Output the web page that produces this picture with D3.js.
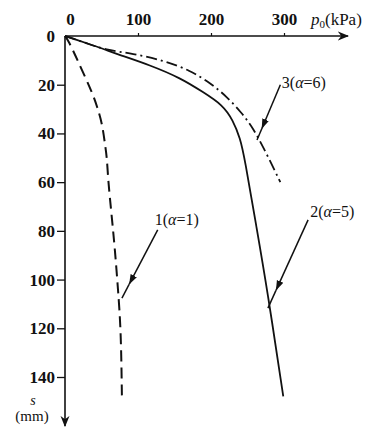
<!DOCTYPE html>
<html>
<head>
<meta charset="utf-8">
<script src="https://cdn.jsdelivr.net/npm/d3@7"></script>
<style>
  body { margin: 0; background: #fff; }
  text { font-family: "Liberation Serif", "DejaVu Serif", serif; fill: #111; }
</style>
</head>
<body>
<svg id="chart" width="374" height="432"></svg>
<script>
// load p0 (kPa) vs settlement s (mm)
var xTicks = [0, 100, 200, 300];
var yTicks = [0, 20, 40, 60, 80, 100, 120, 140];

// curve 1 (a = 1), dashed
var curve1 = [[0, 0], [4, 1.6], [14, 7.8], [25, 15.2], [37, 23], [44, 29], [51, 36],
              [55, 45], [57.5, 50], [59, 59], [64, 74], [68.5, 88], [72.6, 104], [76.7, 121], [78, 149]];
// curve 2 (a = 5), solid
var curve2 = [[0, 0], [15, 1.5], [30, 3], [50, 5], [75, 7.8], [116, 11.9], [158, 17.2],
              [189, 23], [216, 28.3], [230, 34.5], [240, 42], [246, 50], [262, 78], [277, 104], [299, 148]];
// curve 3 (a = 6), dash-dot
var curve3 = [[0, 0], [30, 3], [55, 5.7], [93, 7.2], [134, 10], [171, 14], [200, 19.5],
              [222, 25], [242, 31.5], [258, 38], [274, 47], [295, 60]];

// labels with leader lines: text anchor point, leader start, leader end (data units)
var notes = [
    { num: "1", a: "1", text: [123, 77.6], from: [127, 79.6], to: [78, 107.6] },
    { num: "2", a: "5", text: [336, 74.3], from: [333, 75.5], to: [278, 111.7] },
    { num: "3", a: "6", text: [297, 21.3], from: [295, 20], to: [263, 42.7] }
];

var svg = d3.select("#chart");
var x = d3.scaleLinear().domain([0, 300]).range([65, 284]);
var y = d3.scaleLinear().domain([0, 140]).range([36, 377]);

var defs = svg.append("defs");
defs.append("marker")
    .attr("id", "axisArrow")
    .attr("viewBox", "0 0 10 10")
    .attr("refX", 9).attr("refY", 5)
    .attr("markerWidth", 7).attr("markerHeight", 7)
    .attr("orient", "auto")
    .append("path").attr("d", "M0,1 L10,5 L0,9 L3,5 Z").attr("fill", "#111");

// axes lines
svg.append("line")
    .attr("x1", x(0)).attr("y1", y(0)).attr("x2", 348).attr("y2", y(0))
    .attr("stroke", "#111").attr("stroke-width", 1.6)
    .attr("marker-end", "url(#axisArrow)");
svg.append("line")
    .attr("x1", x(0)).attr("y1", y(0)).attr("x2", x(0)).attr("y2", 426)
    .attr("stroke", "#111").attr("stroke-width", 1.6)
    .attr("marker-end", "url(#axisArrow)");

// y axis ticks
var yAxis = d3.axisLeft(y).tickValues(yTicks).tickSize(8).tickPadding(2);
var gy = svg.append("g").attr("transform", "translate(" + x(0) + ",0)").call(yAxis);
gy.select(".domain").remove();
gy.selectAll(".tick line").attr("stroke", "#111").attr("stroke-width", 1.3)
    .filter(function (d) { return d === 0; }).remove();
gy.selectAll(".tick text")
    .attr("font-size", 17).attr("font-weight", "bold")
    .attr("font-family", "Liberation Serif").attr("fill", "#111");

// x axis ticks
var xAxis = d3.axisTop(x).tickValues(xTicks).tickSize(3).tickPadding(8);
var gx = svg.append("g").attr("transform", "translate(0," + y(0) + ")").call(xAxis);
gx.select(".domain").remove();
gx.selectAll(".tick line").attr("stroke", "#111").attr("stroke-width", 1.2)
    .filter(function (d) { return d === 0; }).remove();
gx.selectAll(".tick text")
    .attr("font-size", 17).attr("font-weight", "bold")
    .attr("font-family", "Liberation Serif").attr("fill", "#111")
    .attr("dx", function (d) { return d === 0 ? 5 : 0; });

// axis titles
var px = svg.append("text").attr("x", 311).attr("y", 25).attr("font-size", 17);
px.append("tspan").attr("font-style", "italic").text("p");
px.append("tspan").attr("font-size", 11).attr("dy", 3).text("0");
px.append("tspan").attr("dy", -3).text("(kPa)");

svg.append("text").attr("x", 33).attr("y", 405).attr("font-size", 14)
    .attr("font-style", "italic").attr("text-anchor", "middle").text("s");
svg.append("text").attr("x", 32).attr("y", 421).attr("font-size", 15)
    .attr("text-anchor", "middle").text("(mm)");

// curves
var line = d3.line()
    .x(function (d) { return x(d[0]); })
    .y(function (d) { return y(d[1]); })
    .curve(d3.curveBasis);

svg.append("path").datum(curve1).attr("d", line)
    .attr("fill", "none").attr("stroke", "#111").attr("stroke-width", 2)
    .attr("stroke-dasharray", "11,6");
svg.append("path").datum(curve2).attr("d", line)
    .attr("fill", "none").attr("stroke", "#111").attr("stroke-width", 1.8);
svg.append("path").datum(curve3).attr("d", line)
    .attr("fill", "none").attr("stroke", "#111").attr("stroke-width", 1.8)
    .attr("stroke-dasharray", "11,4,2,4");

// leader lines with arrowheads
defs.append("marker")
    .attr("id", "leadArrow")
    .attr("viewBox", "0 0 10 10")
    .attr("refX", 10).attr("refY", 5)
    .attr("markerWidth", 10).attr("markerHeight", 10)
    .attr("markerUnits", "userSpaceOnUse")
    .attr("orient", "auto")
    .append("path").attr("d", "M0,1.5 L10,5 L0,8.5 Z").attr("fill", "#111");

notes.forEach(function (n) {
    var x1 = x(n.from[0]), y1 = y(n.from[1]);
    var x2 = x(n.to[0]), y2 = y(n.to[1]);
    // arrow sits a bit before the end of the leader
    var t = 0.8;
    svg.append("line")
        .attr("x1", x1).attr("y1", y1)
        .attr("x2", x1 + (x2 - x1) * t).attr("y2", y1 + (y2 - y1) * t)
        .attr("stroke", "#111").attr("stroke-width", 1.5)
        .attr("marker-end", "url(#leadArrow)");
    svg.append("line")
        .attr("x1", x1 + (x2 - x1) * t).attr("y1", y1 + (y2 - y1) * t)
        .attr("x2", x2).attr("y2", y2)
        .attr("stroke", "#111").attr("stroke-width", 1.5);

    var label = svg.append("text")
        .attr("x", x(n.text[0])).attr("y", y(n.text[1]))
        .attr("font-size", 16);
    label.append("tspan").text(n.num + "(");
    label.append("tspan").attr("font-style", "italic").text("α");
    label.append("tspan").text("=" + n.a + ")");
});
</script>
</body>
</html>
